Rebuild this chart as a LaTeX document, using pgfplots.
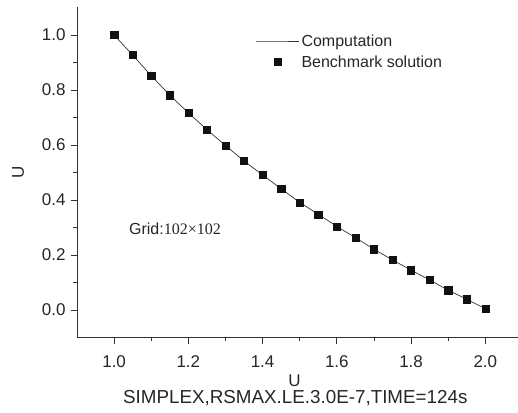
\documentclass[border=0pt]{standalone}
\usepackage{pgfplots}
\pgfplotsset{compat=1.18}
\usepackage{fontspec}
\setmainfont{Liberation Sans}
\newfontfamily\timesf{Liberation Serif}
\definecolor{linec}{HTML}{333333}
\definecolor{markc}{HTML}{111111}
\begin{document}
\begin{tikzpicture}
\begin{axis}[
  at={(0,0)}, anchor=south west,
  scale only axis,
  width=441bp, height=330bp,
  xmin=0.9, xmax=2.088,
  ymin=-0.1, ymax=1.1,
  axis lines=left,
  axis line style={-, line width=0.8bp, color=black!80},
  xtick={1.0,1.2,1.4,1.6,1.8,2.0},
  ytick={0.0,0.2,0.4,0.6,0.8,1.0},
  minor x tick num=1,
  minor y tick num=1,
  tick align=outside,
  major tick length=6bp,
  minor tick length=3.5bp,
  tick style={line width=0.8bp, color=black!80},
  /pgf/number format/assume math mode=true,
  /pgf/number format/fixed,
  /pgf/number format/precision=1,
  /pgf/number format/fixed zerofill,
  ticklabel style={font=\fontsize{17bp}{20bp}\selectfont, color=black!85},
  xticklabel style={yshift=-9bp},
  yticklabel style={xshift=-2bp},
  xlabel={U},
  ylabel={U},
  label style={font=\fontsize{17bp}{20bp}\selectfont, color=black!85},
  xlabel style={at={(rel axis cs:0.5,0)}, anchor=center, yshift=-43bp, xshift=-3bp},
  ylabel style={at={(rel axis cs:0,0.5)}, anchor=center, yshift=59bp},
  legend style={
    at={(rel axis cs:0.405,0.925)}, anchor=north west,
    draw=none, fill=none, inner sep=0pt,
    font=\fontsize{16bp}{19bp}\selectfont,
    row sep=4bp,
    nodes={inner sep=2bp, text=black!85},
  },
  legend cell align=left,
  legend image code/.code={\draw[mark repeat=2,mark phase=2] plot coordinates {(0bp,0bp)(21.5bp,0bp)(43bp,0bp)};},
  clip=false,
]
\addplot[linec, line width=0.7bp] coordinates {
(1.00,1.000)(1.05,0.927)(1.10,0.852)(1.15,0.781)(1.20,0.717)(1.25,0.656)(1.30,0.598)
(1.35,0.542)(1.40,0.491)(1.45,0.441)(1.50,0.391)(1.55,0.348)(1.60,0.304)(1.65,0.263)
(1.70,0.221)(1.75,0.182)(1.80,0.145)(1.85,0.109)(1.90,0.072)(1.95,0.039)(2.00,0.005)
};
\addlegendentry{Computation}
\addplot[only marks, mark=square*, mark size=3.6bp, color=markc, mark options={fill=markc}] coordinates {
(1.00,1.000)(1.05,0.927)(1.10,0.852)(1.15,0.781)(1.20,0.717)(1.25,0.656)(1.30,0.598)
(1.35,0.542)(1.40,0.491)(1.45,0.441)(1.50,0.391)(1.55,0.348)(1.60,0.304)(1.65,0.263)
(1.70,0.221)(1.75,0.182)(1.80,0.145)(1.85,0.109)(1.90,0.072)(1.95,0.039)(2.00,0.005)
};
\addlegendentry{Benchmark solution}
\node[anchor=west, inner sep=0pt, font=\fontsize{16bp}{19bp}\selectfont, color=black!85] at (axis cs:1.04,0.297) {Grid:{\timesf 102×102}};
\node[anchor=center, inner sep=0pt, font=\fontsize{18.8bp}{21bp}\selectfont, color=black!85] at ([yshift=-61bp]rel axis cs:0.495,0) {SIMPLEX,RSMAX.LE.3.0E-7,TIME=124s};
\end{axis}
\pgfresetboundingbox
\path[use as bounding box] (-77bp,-75.5bp) rectangle (441bp,337.5bp);
\end{tikzpicture}
\end{document}
